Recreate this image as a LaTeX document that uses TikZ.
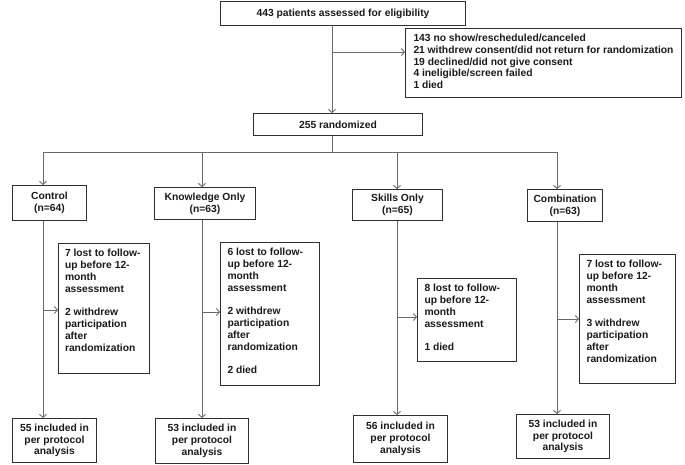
\documentclass[tikz,border=0pt]{standalone}
\usepackage{fontspec}
\setmainfont{Liberation Sans}
\usetikzlibrary{arrows.meta}
\definecolor{boxline}{HTML}{303030}
\definecolor{conn}{HTML}{6A6A6A}
\definecolor{txt}{HTML}{1A1A1A}
\newcommand\sidetxt[3]{\parbox[c][#1][t]{#2}{\raggedright #3}}
\begin{document}
\begin{tikzpicture}[x=1pt,y=-1pt,
  every node/.style={font=\fontsize{10.3}{11.8}\selectfont\bfseries, text=txt},
  box/.style={draw=boxline, line width=1pt, anchor=north west, inner sep=0pt, align=center},
  leftbox/.style={box, align=left},
  conline/.style={draw=conn, line width=0.9pt},
  arr/.style={conline, -{Straight Barb[length=3pt,width=7pt]}}
]
\useasboundingbox[fill=white] (0,0) rectangle (685,464);

% top part
\node[box, minimum width=245pt, minimum height=24pt] (top) at (220,1) {443 patients assessed for eligibility};
\node[leftbox, minimum width=276pt, minimum height=69pt] (excl) at (405,28)
  {\sidetxt{58pt}{260pt}{143 no show/rescheduled/canceled\\
   21 withdrew consent/did not return for randomization\\
   19 declined/did not give consent\\
   4 ineligible/screen failed\\
   1 died}};
\node[box, minimum width=169pt, minimum height=22pt] (rand) at (253,113) {255 randomized};

% group boxes
\node[box, minimum width=74pt, minimum height=35pt] (ctl) at (12,185) {Control\\(n=64)};
\node[box, minimum width=101pt, minimum height=32pt] (kn) at (154,187) {Knowledge Only\\(n=63)};
\node[box, minimum width=90pt, minimum height=31pt] (sk) at (352,189) {Skills Only\\(n=65)};
\node[box, minimum width=75pt, minimum height=32pt] (cb) at (527,189) {Combination\\(n=63)};

% side boxes
\node[leftbox, minimum width=91pt, minimum height=130pt] (ctls) at (58,243)
  {\sidetxt{118pt}{78pt}{7 lost to follow-\\up before 12-\\month\\assessment\\[11.8pt]
   2 withdrew\\participation\\after\\randomization}};
\node[leftbox, minimum width=99pt, minimum height=143pt] (kns) at (220,242)
  {\sidetxt{131pt}{85pt}{6 lost to follow-\\up before 12-\\month\\assessment\\[11.8pt]
   2 withdrew\\participation\\after\\randomization\\[11.8pt]
   2 died}};
\node[leftbox, minimum width=99pt, minimum height=83pt] (sks) at (417,278)
  {\sidetxt{71pt}{85pt}{8 lost to follow-\\up before 12-\\month\\assessment\\[11.8pt]
   1 died}};
\node[leftbox, minimum width=96pt, minimum height=129pt] (cbs) at (579,254)
  {\sidetxt{117pt}{82pt}{7 lost to follow-\\up before 12-\\month\\assessment\\[11.8pt]
   3 withdrew\\participation\\after\\randomization}};

% bottom boxes
\node[box, minimum width=84pt, minimum height=44pt] (ctlb) at (12,418) {55 included in\\per protocol\\analysis};
\node[box, minimum width=93pt, minimum height=45pt] (knb) at (155,418) {53 included in\\per protocol\\analysis};
\node[box, minimum width=94pt, minimum height=47pt] (skb) at (353,415) {56 included in\\per protocol\\analysis};
\node[box, minimum width=93pt, minimum height=44pt] (cbb) at (516,414) {53 included in\\per protocol\\analysis};

% coordinates
\coordinate (topx) at (332,25);
\coordinate (br) at (332,52);
\coordinate (split) at (332,152);
\coordinate (c1) at (43,152);
\coordinate (c2) at (202,152);
\coordinate (c3) at (397,152);
\coordinate (c4) at (557,152);
\coordinate (s1) at (43,310);
\coordinate (s2) at (202,312);
\coordinate (s3) at (397,317);
\coordinate (s4) at (557,319);

% connectors
\draw[arr] (topx) -- (topx |- rand.north);
\draw[arr] (br) -- (br -| excl.west);
\draw[conline] (split |- rand.south) -- (split);
\draw[conline] (c1) -- (c4);
\draw[arr] (c1) -- (c1 |- ctl.north);
\draw[arr] (c2) -- (c2 |- kn.north);
\draw[arr] (c3) -- (c3 |- sk.north);
\draw[arr] (c4) -- (c4 |- cb.north);

\draw[arr] (c1 |- ctl.south) -- (c1 |- ctlb.north);
\draw[arr] (c2 |- kn.south) -- (c2 |- knb.north);
\draw[arr] (c3 |- sk.south) -- (c3 |- skb.north);
\draw[arr] (c4 |- cb.south) -- (c4 |- cbb.north);

\draw[arr] (s1) -- (s1 -| ctls.west);
\draw[arr] (s2) -- (s2 -| kns.west);
\draw[arr] (s3) -- (s3 -| sks.west);
\draw[arr] (s4) -- (s4 -| cbs.west);
\end{tikzpicture}
\end{document}
